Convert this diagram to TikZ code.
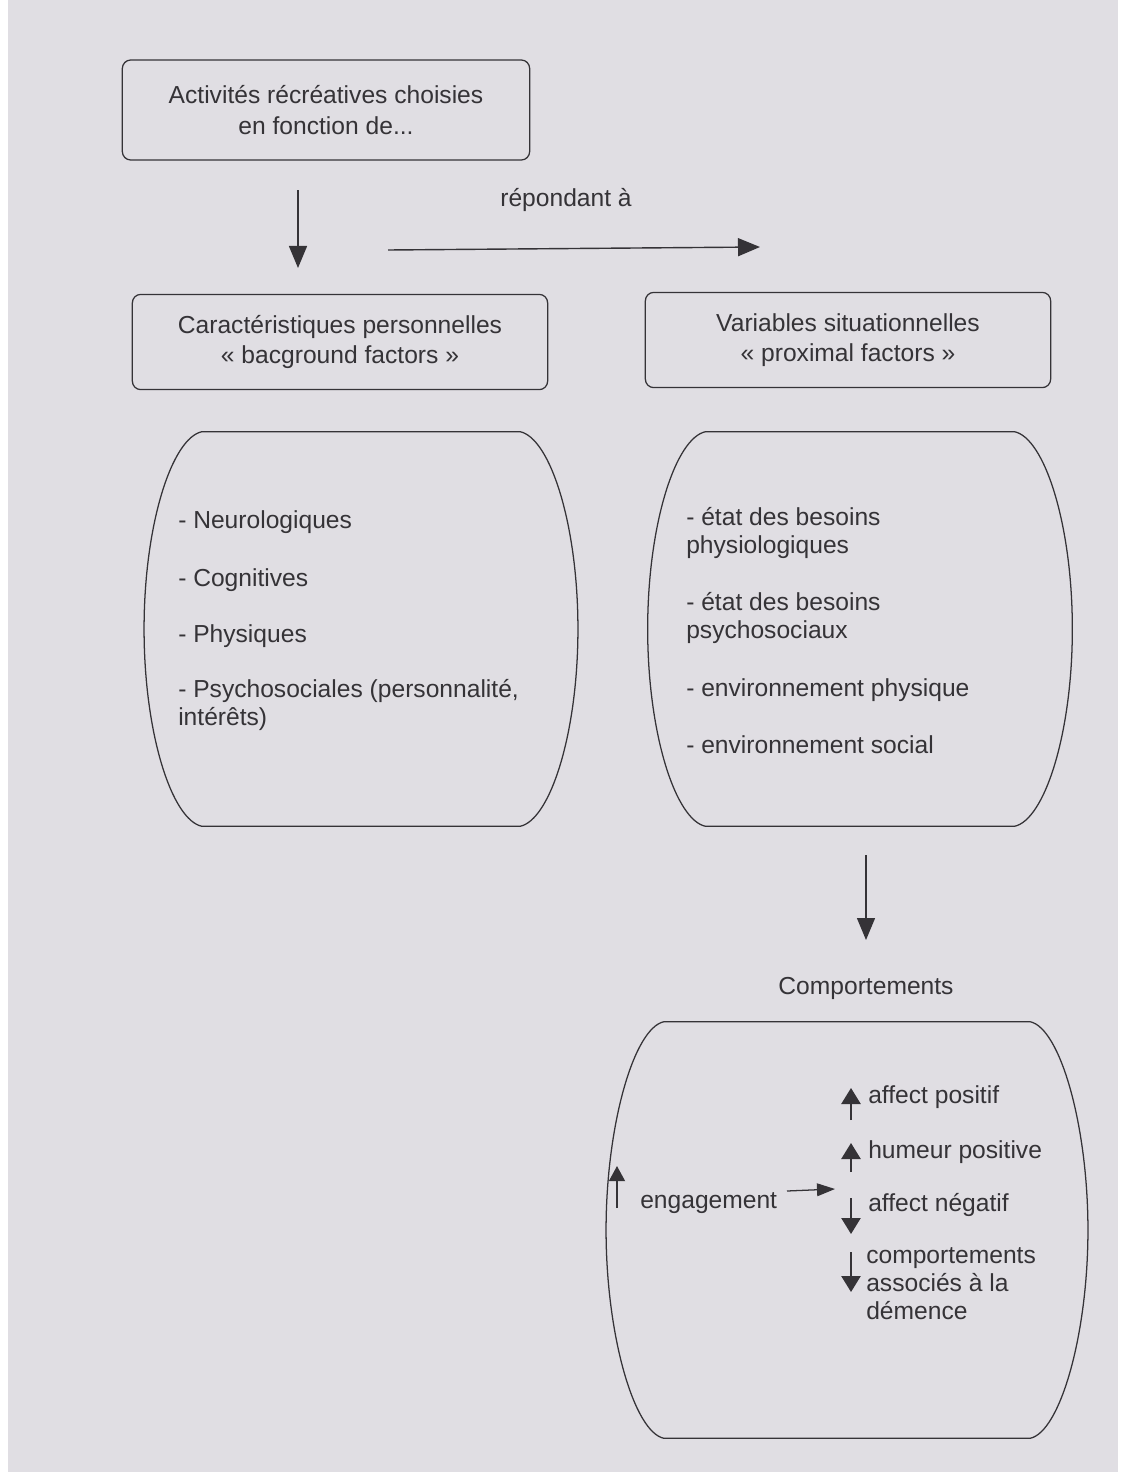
\documentclass[tikz,border=0pt]{standalone}
\usepackage{fontspec}
\setmainfont{Liberation Sans}
\usetikzlibrary{arrows.meta, positioning, calc}

\definecolor{page}{HTML}{E0DEE3}
\definecolor{ink}{HTML}{353337}

\tikzset{
  box/.style={draw=ink, line width=0.9pt, rounded corners=6pt, align=center,
    text=ink, font=\fontsize{17.5}{21}\selectfont},
  zone/.style={inner sep=0pt},
  item/.style={text=ink, align=left, inner sep=0pt,
    font=\fontsize{17.5}{20}\selectfont},
  fleche/.style={draw=ink, line width=1pt, -{Triangle[length=0.55cm,width=0.45cm]}},
  petite/.style={draw=ink, line width=1.3pt, -{Triangle[length=0.4cm,width=0.48cm]}},
  outline/.style={draw=ink, line width=0.9pt}
}

% contour bombe autour d'une zone
\newcommand{\barrelline}[1]{%
  \draw[outline] ($(#1.north west)+(58,0)$) -- ($(#1.north east)+(-58,0)$)
    .. controls ($(#1.north east)+(-28,6)$) and ($(#1.east)+(0,-105)$) .. (#1.east)
    .. controls ($(#1.east)+(0,105)$) and ($(#1.south east)+(-28,-6)$) .. ($(#1.south east)+(-58,0)$)
    -- ($(#1.south west)+(58,0)$)
    .. controls ($(#1.south west)+(28,-6)$) and ($(#1.west)+(0,105)$) .. (#1.west)
    .. controls ($(#1.west)+(0,-105)$) and ($(#1.north west)+(28,6)$) .. cycle;}

\begin{document}
\begin{tikzpicture}[x=0.025cm, y=-0.025cm]
    \useasboundingbox (0,0) rectangle (1126,1479);
    \fill[page] (8,0) rectangle (1118,1472);

    \node (choix) [box, minimum width=10.18cm, minimum height=2.5cm, font=\fontsize{17.5}{22.5}\selectfont] at (326,110) {Activités récréatives choisies\\en fonction de...};
    \node (perso) [box, minimum width=10.38cm, minimum height=2.38cm] at (340,342) {Caractéristiques personnelles\\« bacground factors »};
    \node (situ) [box, minimum width=10.13cm, minimum height=2.38cm] at (848,340) {Variables situationnelles\\« proximal factors »};
    \node (repond) [item] at (566,200) {répondant à};

    \coordinate (f1a) at (298,190);
    \coordinate (f1b) at (298,268);
    \coordinate (f2a) at (388,250);
    \coordinate (f2b) at (760,247);
    \draw[fleche] (f1a) -- (f1b);
    \draw[fleche] (f2a) -- (f2b);

    % facteurs personnels
    \node (zperso) [zone, minimum width=10.83cm, minimum height=9.85cm] at (361,629) {};
    \barrelline{zperso}
    \node (neuro) [item, anchor=west] at (178,522) {- Neurologiques};
    \node (cogn) [item, anchor=west] at (178,580) {- Cognitives};
    \node (phys) [item, anchor=west] at (178,636) {- Physiques};
    \node (psy) [item, anchor=west] at (178,705) {- Psychosociales (personnalité,\\intérêts)};

    % facteurs situationnels
    \node (zsitu) [zone, minimum width=10.6cm, minimum height=9.85cm] at (860,629) {};
    \barrelline{zsitu}
    \node (bphys) [item, anchor=west] at (686,533) {- état des besoins\\physiologiques};
    \node (bpsy) [item, anchor=west] at (686,618) {- état des besoins\\psychosociaux};
    \node (ephys) [item, anchor=west] at (686,690) {- environnement physique};
    \node (esoc) [item, anchor=west] at (686,745) {- environnement social};

    \coordinate (f3a) at (866,855);
    \coordinate (f3b) at (866,940);
    \draw[fleche] (f3a) -- (f3b);
    \node (comport) [item] at (866,988) {Comportements};

    % comportements
    \node (zcomp) [zone, minimum width=12.03cm, minimum height=10.4cm] at (847,1230) {};
    \barrelline{zcomp}
    \node (engag) [item, anchor=west] at (640,1203) {engagement};
    \node (apos) [item, anchor=west] at (868,1097) {affect positif};
    \node (hpos) [item, anchor=west] at (868,1152) {humeur positive};
    \node (aneg) [item, anchor=west] at (868,1205) {affect négatif};
    \node (cdem) [item, anchor=west] at (866,1284) {comportements\\associés à la\\démence};

    \coordinate (e1) at (617,1208);
    \coordinate (e2) at (617,1166);
    \coordinate (e3) at (787,1191);
    \coordinate (e4) at (835,1189);
    \draw[petite, -{Triangle[length=0.38cm,width=0.4cm]}] (e1) -- (e2);
    \draw[ink, line width=0.9pt, -{Triangle[length=0.45cm,width=0.32cm]}] (e3) -- (e4);

    \coordinate (p1) at (851,1120);
    \coordinate (p2) at (851,1088);
    \coordinate (h1) at (851,1172);
    \coordinate (h2) at (851,1143);
    \coordinate (n1) at (851,1198);
    \coordinate (n2) at (851,1234);
    \coordinate (c1) at (851,1252);
    \coordinate (c2) at (851,1292);
    \draw[petite] (p1) -- (p2);
    \draw[petite] (h1) -- (h2);
    \draw[petite] (n1) -- (n2);
    \draw[petite] (c1) -- (c2);
\end{tikzpicture}
\end{document}
